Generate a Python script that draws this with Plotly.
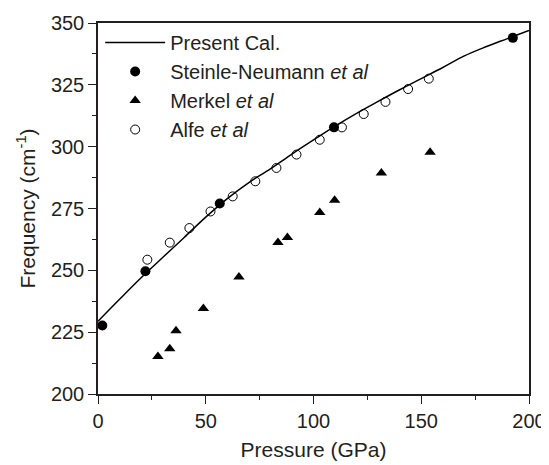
import plotly.graph_objects as go

# Present calculation (curve)
calc_p = [0, 10, 20, 30, 40, 50, 60, 70, 80, 90, 100, 110, 120, 130, 140, 150, 160, 170, 180, 190, 200]
calc_f = [229.4, 238.3, 247.0, 255.2, 263.3, 271.5, 279.0, 285.5, 291.0, 297.0, 302.7, 308.3,
          313.5, 318.3, 323.0, 327.5, 332.0, 336.7, 340.4, 343.7, 347.0]

# Steinle-Neumann et al
sn_p = [2, 22, 56.5, 109.5, 192.5]
sn_f = [227.7, 249.6, 277.0, 307.8, 344.0]

# Merkel et al
mk_p = [27.8, 33.3, 36.2, 48.9, 65.4, 83.5, 87.9, 102.9, 109.8, 131.5, 154.1]
mk_f = [215.2, 218.3, 225.6, 234.6, 247.3, 261.3, 263.3, 273.4, 278.3, 289.4, 297.7]

# Alfe et al
al_p = [22.9, 33.3, 42.4, 52.2, 62.5, 73.0, 82.8, 92.1, 102.9, 113.2, 123.3, 133.4, 143.9, 153.5]
al_f = [254.3, 261.2, 267.1, 273.8, 279.9, 286.0, 291.4, 296.8, 302.8, 307.8, 313.2, 318.1, 323.3, 327.5]

FONT = "Liberation Sans, Arial, sans-serif"
INK = "#231f20"

fig = go.Figure()
fig.add_trace(go.Scatter(x=calc_p, y=calc_f, mode="lines", name="Present Cal.",
                         line=dict(color="black", width=1.5, shape="spline")))
fig.add_trace(go.Scatter(x=sn_p, y=sn_f, mode="markers", name="Steinle-Neumann <i>et al</i>",
                         marker=dict(symbol="circle", size=10, color="black")))
fig.add_trace(go.Scatter(x=mk_p, y=mk_f, mode="markers", name="Merkel <i>et al</i>",
                         marker=dict(symbol="triangle-up", size=10, color="black")))
fig.add_trace(go.Scatter(x=al_p, y=al_f, mode="markers", name="Alfe <i>et al</i>",
                         marker=dict(symbol="circle-open", size=9, color="black", line=dict(width=1))))

axis_common = dict(showline=True, linecolor=INK, linewidth=1.5, mirror=True,
                   ticks="outside", ticklen=8, tickwidth=1.3, tickcolor=INK,
                   showgrid=False, zeroline=False, automargin=False,
                   tickfont=dict(family=FONT, size=20, color=INK))

# page body adds an 8px offset, so the figure is sized to the remaining area
fig.update_layout(
    width=541, height=457,
    margin=dict(l=90, r=20, t=15, b=71),
    paper_bgcolor="white", plot_bgcolor="white",
    font=dict(family=FONT, color=INK),
    showlegend=True,
    legend=dict(x=0.005, y=1.0, xanchor="left", yanchor="top", bgcolor="rgba(0,0,0,0)",
                font=dict(family=FONT, size=20, color=INK), itemwidth=60),
    xaxis=dict(range=[0, 200], tickvals=[0, 50, 100, 150, 200],
               minor=dict(dtick=25, ticks="outside", ticklen=4, tickwidth=1.3, tickcolor=INK),
               title=dict(text="Pressure (GPa)", font=dict(family=FONT, size=21, color=INK), standoff=12),
               **axis_common),
    yaxis=dict(range=[200, 350], tickvals=[200, 225, 250, 275, 300, 325, 350],
               minor=dict(dtick=12.5, ticks="outside", ticklen=4, tickwidth=1.3, tickcolor=INK),
               title=dict(text="Frequency (cm<sup>-1</sup>)", font=dict(family=FONT, size=21, color=INK), standoff=10),
               **axis_common),
)

fig.write_html("out.html")
